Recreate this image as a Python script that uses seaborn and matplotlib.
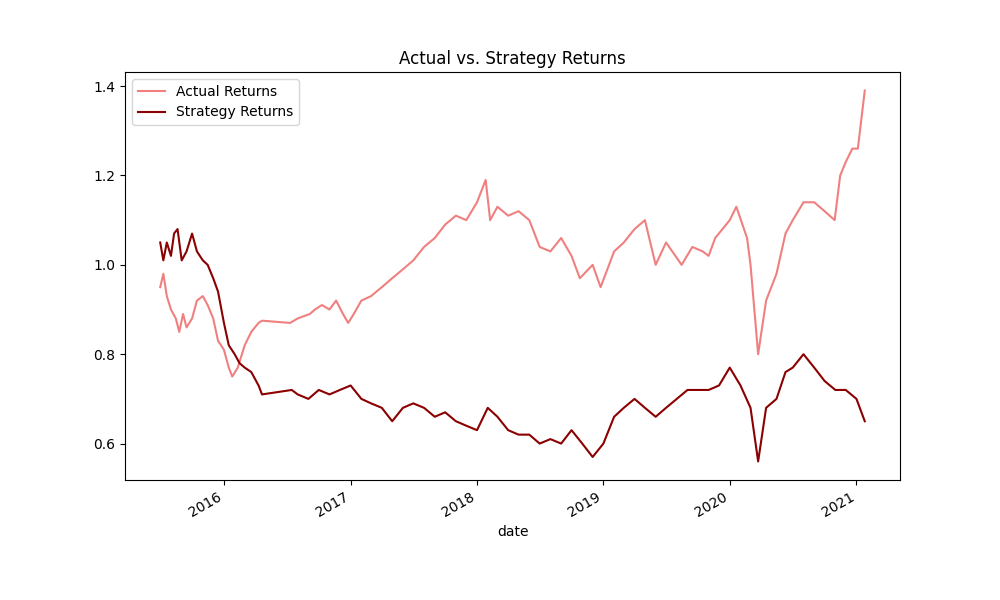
import matplotlib
matplotlib.use("Agg")
import matplotlib.pyplot as plt
import matplotlib.dates as mdates
import pandas as pd
import seaborn as sns

actual_dates = [
    "2015-07-01", "2015-07-10", "2015-07-20", "2015-08-01", "2015-08-15", "2015-08-25",
    "2015-09-05", "2015-09-15", "2015-10-01", "2015-10-15", "2015-11-01", "2015-11-15",
    "2015-12-01", "2015-12-15", "2016-01-01", "2016-01-15", "2016-01-25", "2016-02-10",
    "2016-03-01", "2016-03-20", "2016-04-10", "2016-04-20", "2016-07-10", "2016-08-01",
    "2016-09-05", "2016-09-20", "2016-10-10", "2016-11-01", "2016-11-20", "2016-12-10",
    "2016-12-25", "2017-01-10", "2017-02-01", "2017-03-01", "2017-04-01", "2017-05-01",
    "2017-06-01", "2017-07-01", "2017-08-01", "2017-09-01", "2017-10-01", "2017-11-01",
    "2017-12-01", "2018-01-01", "2018-01-26", "2018-02-08", "2018-03-01", "2018-04-01",
    "2018-05-01", "2018-06-01", "2018-07-01", "2018-08-01", "2018-09-01", "2018-10-01",
    "2018-10-25", "2018-12-01", "2018-12-24", "2019-02-01", "2019-03-01", "2019-04-01",
    "2019-05-01", "2019-06-01", "2019-07-01", "2019-08-15", "2019-09-15", "2019-10-15",
    "2019-11-01", "2019-11-20", "2020-01-01", "2020-01-20", "2020-02-20", "2020-03-01",
    "2020-03-23", "2020-04-15", "2020-05-15", "2020-06-10", "2020-07-01", "2020-08-01",
    "2020-09-01", "2020-10-01", "2020-10-30", "2020-11-15", "2020-12-01", "2020-12-20",
    "2021-01-05", "2021-01-25",
]
actual_values = [
    0.95, 0.98, 0.93, 0.90, 0.88, 0.85, 0.89, 0.86, 0.88, 0.92, 0.93, 0.91,
    0.88, 0.83, 0.81, 0.77, 0.75, 0.77, 0.82, 0.85, 0.87, 0.875, 0.87, 0.88,
    0.89, 0.90, 0.91, 0.90, 0.92, 0.89, 0.87, 0.89, 0.92, 0.93, 0.95, 0.97,
    0.99, 1.01, 1.04, 1.06, 1.09, 1.11, 1.10, 1.14, 1.19, 1.10, 1.13, 1.11,
    1.12, 1.10, 1.04, 1.03, 1.06, 1.02, 0.97, 1.00, 0.95, 1.03, 1.05, 1.08,
    1.10, 1.00, 1.05, 1.00, 1.04, 1.03, 1.02, 1.06, 1.10, 1.13, 1.06, 1.00,
    0.80, 0.92, 0.98, 1.07, 1.10, 1.14, 1.14, 1.12, 1.10, 1.20, 1.23, 1.26,
    1.26, 1.39,
]

strategy_dates = [
    "2015-07-01", "2015-07-10", "2015-07-20", "2015-08-01", "2015-08-10", "2015-08-20",
    "2015-09-01", "2015-09-15", "2015-10-01", "2015-10-15", "2015-11-01", "2015-11-15",
    "2015-12-01", "2015-12-15", "2016-01-01", "2016-01-15", "2016-02-01", "2016-02-15",
    "2016-03-01", "2016-03-20", "2016-04-10", "2016-04-20", "2016-07-15", "2016-08-01",
    "2016-09-01", "2016-10-01", "2016-11-01", "2016-12-01", "2017-01-01", "2017-02-01",
    "2017-03-01", "2017-04-01", "2017-05-01", "2017-06-01", "2017-07-01", "2017-08-01",
    "2017-09-01", "2017-10-01", "2017-11-01", "2017-12-01", "2018-01-01", "2018-02-01",
    "2018-03-01", "2018-04-01", "2018-05-01", "2018-06-01", "2018-07-01", "2018-08-01",
    "2018-09-01", "2018-10-01", "2018-11-01", "2018-12-01", "2019-01-01", "2019-02-01",
    "2019-03-01", "2019-04-01", "2019-05-01", "2019-06-01", "2019-07-01", "2019-08-01",
    "2019-09-01", "2019-10-01", "2019-11-01", "2019-12-01", "2020-01-01", "2020-02-01",
    "2020-03-01", "2020-03-23", "2020-04-15", "2020-05-15", "2020-06-10", "2020-07-01",
    "2020-08-01", "2020-09-01", "2020-10-01", "2020-11-01", "2020-12-01", "2021-01-01",
    "2021-01-25",
]
strategy_values = [
    1.05, 1.01, 1.05, 1.02, 1.07, 1.08, 1.01, 1.03, 1.07, 1.03, 1.01, 1.00,
    0.97, 0.94, 0.87, 0.82, 0.80, 0.78, 0.77, 0.76, 0.73, 0.71, 0.72, 0.71,
    0.70, 0.72, 0.71, 0.72, 0.73, 0.70, 0.69, 0.68, 0.65, 0.68, 0.69, 0.68,
    0.66, 0.67, 0.65, 0.64, 0.63, 0.68, 0.66, 0.63, 0.62, 0.62, 0.60, 0.61,
    0.60, 0.63, 0.60, 0.57, 0.60, 0.66, 0.68, 0.70, 0.68, 0.66, 0.68, 0.70,
    0.72, 0.72, 0.72, 0.73, 0.77, 0.73, 0.68, 0.56, 0.68, 0.70, 0.76, 0.77,
    0.80, 0.77, 0.74, 0.72, 0.72, 0.70, 0.65,
]

actual = pd.DataFrame({"date": pd.to_datetime(actual_dates), "value": actual_values})
strategy = pd.DataFrame({"date": pd.to_datetime(strategy_dates), "value": strategy_values})

fig, ax = plt.subplots(figsize=(10, 6), dpi=100)
sns.lineplot(data=actual, x="date", y="value", color="lightcoral", label="Actual Returns", ax=ax)
sns.lineplot(data=strategy, x="date", y="value", color="darkred", label="Strategy Returns", ax=ax)

ax.xaxis.set_major_locator(mdates.YearLocator())
ax.xaxis.set_major_formatter(mdates.DateFormatter("%Y"))
fig.autofmt_xdate()
ax.set_xlabel("date")
ax.set_ylabel("")
ax.set_title("Actual vs. Strategy Returns")
ax.legend(loc="upper left")

fig.savefig("out.png", dpi=100)
